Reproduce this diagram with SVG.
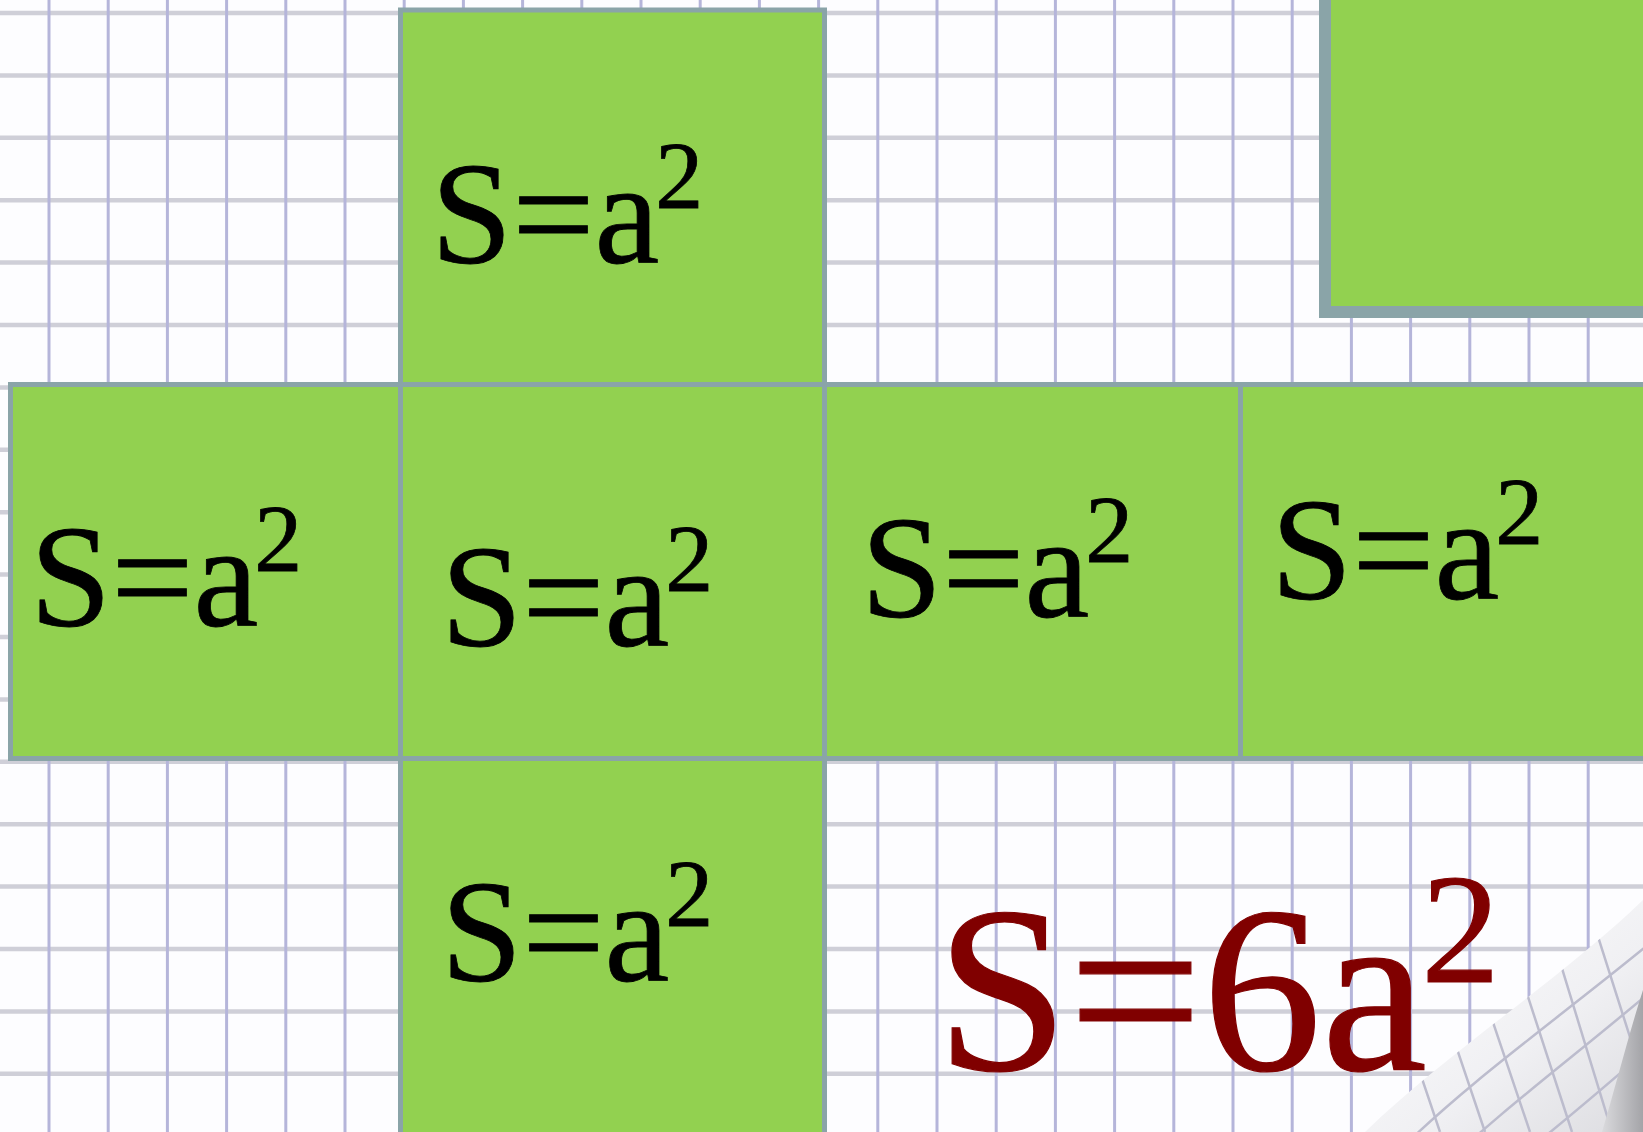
<svg xmlns="http://www.w3.org/2000/svg" width="1643" height="1132" viewBox="0 0 1643 1132">
<style>
.vg{stroke:#b5b5da;stroke-width:3;fill:none}
.hg{stroke:#cfcfd8;stroke-width:4.5;fill:none}
.sq{fill:#92d150;stroke:#8aa4a8;stroke-width:5}
.lbl{font-family:'Times New Roman','Liberation Serif',Tinos,serif;font-size:146px;fill:#000;stroke:#000;stroke-width:0.8}
.sup{font-size:96px}
.big{font-family:'Times New Roman','Liberation Serif',Tinos,serif;font-size:238px;fill:#800000;stroke:#800000;stroke-width:1.2}
.bsup{font-size:157px}
.cg{stroke:#bcbccd;stroke-width:2.5;fill:none}
</style>
<defs>
<linearGradient id="curlg" x1="0" y1="0" x2="1" y2="1">
<stop offset="0" stop-color="#ffffff"/>
<stop offset="0.6" stop-color="#f0f0f3"/>
<stop offset="1" stop-color="#dcdce0"/>
</linearGradient>
<linearGradient id="shad" x1="0" y1="0" x2="1" y2="0">
<stop offset="0" stop-color="#dadadd"/>
<stop offset="1" stop-color="#a4a4a8"/>
</linearGradient>
<clipPath id="curlclip"><path d="M1365,1132 C1450,1050 1560,980 1643,900 L1643,1132 Z"/></clipPath>
</defs>
<rect x="0" y="0" width="1643" height="1132" fill="#fdfdff"/>
<g id="grid">
<path class="hg" d="M0 13H1643M0 75.4H1643M0 137.8H1643M0 200.2H1643M0 262.6H1643M0 325H1643M0 387.4H1643M0 449.8H1643M0 512.2H1643M0 574.6H1643M0 637H1643M0 699.4H1643M0 761.8H1643M0 824.2H1643M0 886.6H1643M0 949H1643M0 1011.4H1643M0 1073.8H1643"/>
<path class="vg" d="M49 0V1132M108.2 0V1132M167.4 0V1132M226.6 0V1132M285.8 0V1132M345 0V1132M404.2 0V1132M463.4 0V1132M522.6 0V1132M581.8 0V1132M641 0V1132M700.2 0V1132M759.4 0V1132M818.6 0V1132M877.8 0V1132M937 0V1132M996.2 0V1132M1055.4 0V1132M1114.6 0V1132M1173.8 0V1132M1233 0V1132M1292.2 0V1132M1351.4 0V1132M1410.6 0V1132M1469.8 0V1132M1529 0V1132M1588.2 0V1132"/>
</g>
<g id="curl">
<path d="M1365,1132 C1450,1050 1560,980 1643,900 L1643,1132 Z" fill="url(#curlg)"/>
<g clip-path="url(#curlclip)">
<path class="cg" d="M1400,1150 C1470,1080 1570,1010 1660,935 M1440,1170 C1500,1110 1590,1045 1670,975 M1480,1190 C1540,1140 1610,1085 1680,1020"/>
<path class="cg" d="M1355,880 L1440,1132 M1400,880 L1485,1132 M1445,880 L1530,1132 M1490,880 L1572,1132 M1535,880 L1612,1132 M1580,880 L1650,1100"/>
</g>
<path d="M1602,1132 C1616,1085 1630,1030 1643,990 L1643,1132 Z" fill="url(#shad)"/>
</g>
<g id="top-right-square">
<rect x="1325" y="-20" width="340" height="332" fill="#92d150" stroke="#8aa4a8" stroke-width="12"/>
</g>
<g id="face-top">
<rect class="sq" x="400.5" y="10" width="424" height="374.5"/>
<text class="lbl" x="431" y="263">S=a<tspan class="sup" dx="-4" dy="-55">2</tspan></text>
</g>
<g id="face-left">
<rect class="sq" x="10.5" y="384.5" width="390" height="374"/>
<text class="lbl" x="30" y="626">S=a<tspan class="sup" dx="-4" dy="-55">2</tspan></text>
</g>
<g id="face-center">
<rect class="sq" x="400.5" y="384.5" width="424" height="374"/>
<text class="lbl" x="441" y="646">S=a<tspan class="sup" dx="-4" dy="-55">2</tspan></text>
</g>
<g id="face-right1">
<rect class="sq" x="824.5" y="384.5" width="416" height="374"/>
<text class="lbl" x="861" y="617">S=a<tspan class="sup" dx="-4" dy="-55">2</tspan></text>
</g>
<g id="face-right2">
<rect class="sq" x="1240.5" y="384.5" width="420" height="374"/>
<text class="lbl" x="1271" y="599">S=a<tspan class="sup" dx="-4" dy="-55">2</tspan></text>
</g>
<g id="face-bottom">
<rect class="sq" x="400.5" y="758.5" width="424" height="390"/>
<text class="lbl" x="441" y="981">S=a<tspan class="sup" dx="-4" dy="-55">2</tspan></text>
</g>
<g id="total">
<text class="big" x="936" y="1070">S=6a<tspan class="bsup" dx="-6" dy="-88">2</tspan></text>
</g>
</svg>
